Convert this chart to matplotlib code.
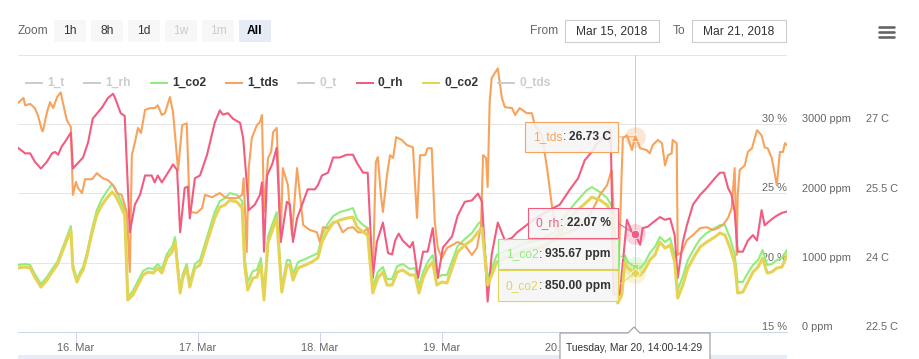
import matplotlib.pyplot as plt
from matplotlib.patches import Rectangle, Polygon, ConnectionPatch
from matplotlib.lines import Line2D
from matplotlib.transforms import Affine2D
from matplotlib.offsetbox import TextArea, HPacker, AnnotationBbox

plt.rcParams['font.family'] = ['Liberation Sans', 'DejaVu Sans']

# hours since Mar 15 2018 00:00 (thinned)
rh0_t = [12.6, 14.0, 15.0, 15.9, 17.1, 18.3, 19.3, 19.9, 20.5, 21.2,
         21.8, 23.0, 23.4, 24.4, 25.4, 26.4, 27.3, 29.1, 30.3, 31.3,
         31.7, 32.8, 33.6, 34.6, 35.6, 36.6, 37.6, 38.9, 39.5, 40.1,
         40.9, 42.1, 43.1, 43.9, 44.5, 45.4, 46.0, 46.4, 47.4, 48.4,
         49.8, 51.3, 52.3, 52.9, 53.9, 54.9, 56.3, 56.9, 57.6, 58.0,
         59.2, 60.2, 60.6, 61.0, 61.6, 62.6, 63.5, 64.3, 65.5, 66.1,
         66.7, 67.5, 68.7, 69.6, 71.0, 71.6, 72.4, 73.6, 74.6, 75.9,
         77.3, 78.5, 79.3, 80.5, 81.4, 82.4, 83.2, 84.4, 85.4, 86.2,
         86.8, 87.5, 88.3, 89.7, 90.3, 91.3, 92.3, 93.2, 94.2, 95.2,
         96.2, 98.0, 99.1, 100.5, 101.9, 103.1, 103.9, 105.0, 105.8, 107.0,
         108.4, 109.8, 110.8, 111.9, 113.3, 115.3, 117.2, 119.2, 121.2, 122.8,
         124.1, 125.5, 126.5, 128.1, 129.2, 129.8, 131.0, 132.4, 133.4, 134.0,
         135.0, 135.5, 136.5, 137.5, 138.9, 139.9, 140.9, 141.8, 142.4, 143.4,
         144.2, 145.4, 146.8, 148.1, 149.7, 150.7, 151.5, 152.3, 153.0, 153.6,
         154.2, 155.2, 156.2, 157.2, 158.0, 158.9, 159.5, 160.1, 161.1, 161.9,
         162.9, 163.9]
rh0_v = [28.3, 27.9, 27.9, 27.3, 26.8, 27.3, 27.9, 28.0, 27.8, 28.4,
         28.7, 29.4, 26.8, 27.2, 27.6, 28.7, 30.4, 31.2, 31.9, 32.2,
         31.9, 30.8, 30.6, 22.2, 24.2, 24.9, 26.3, 26.3, 25.8, 26.3,
         25.8, 26.5, 27.1, 26.7, 22.2, 25.4, 25.5, 23.2, 26.1, 26.3,
         27.8, 30.1, 31.0, 30.7, 30.8, 30.4, 30.1, 29.0, 25.8, 23.8,
         24.2, 24.9, 25.8, 20.8, 26.3, 27.1, 28.3, 21.5, 24.4, 24.2,
         21.5, 23.2, 24.4, 25.3, 25.3, 25.6, 26.3, 26.5, 27.6, 27.6,
         27.8, 27.8, 27.2, 26.5, 26.5, 18.9, 21.5, 22.9, 20.7, 20.6,
         21.6, 22.1, 21.6, 21.1, 21.5, 18.9, 20.8, 20.8, 22.5, 18.9,
         21.1, 21.9, 23.4, 24.4, 24.5, 25.0, 24.4, 17.2, 20.6, 22.9,
         21.6, 21.8, 22.2, 22.5, 22.9, 23.4, 23.8, 24.2, 25.3, 26.1,
         27.4, 28.0, 28.6, 29.2, 29.6, 17.7, 17.7, 23.1, 22.2, 22.07,
         21.3, 22.5, 22.6, 22.9, 23.3, 23.1, 23.2, 22.0, 18.9, 21.5,
         22.7, 24.2, 24.9, 25.4, 26.1, 26.5, 26.5, 25.4, 24.9, 23.7,
         20.8, 20.8, 21.6, 22.0, 21.6, 23.8, 22.7, 22.9, 23.2, 23.4,
         23.6, 23.7]

tds1_t = [12.6, 13.7, 14.0, 15.0, 15.9, 16.5, 17.3, 17.5, 18.3, 18.9,
          19.5, 20.3, 21.0, 21.4, 22.2, 23.0, 23.4, 24.0, 24.4, 25.2,
          25.8, 27.2, 28.1, 29.3, 30.3, 31.3, 32.1, 33.0, 34.0, 34.6,
          35.0, 35.6, 36.2, 36.8, 37.6, 38.6, 39.5, 40.1, 40.9, 41.5,
          42.5, 43.1, 43.9, 44.1, 44.9, 45.8, 46.4, 47.8, 48.8, 49.4,
          50.8, 52.3, 53.3, 54.3, 55.7, 56.7, 57.0, 57.6, 58.0, 58.6,
          59.6, 60.2, 60.6, 61.0, 61.8, 62.4, 62.8, 63.5, 64.3, 64.7,
          65.7, 66.5, 67.5, 68.3, 68.7, 70.0, 71.4, 72.0, 72.6, 73.6,
          74.6, 75.5, 76.5, 77.5, 78.5, 79.5, 80.5, 81.4, 82.4, 83.0,
          83.4, 84.0, 84.4, 85.2, 85.8, 86.4, 87.0, 88.1, 89.1, 90.3,
          91.1, 91.7, 92.7, 93.2, 94.0, 94.6, 95.2, 96.0, 97.0, 98.0,
          99.1, 100.5, 101.9, 102.9, 103.7, 104.1, 104.7, 105.0, 105.4, 105.8,
          107.0, 107.8, 108.4, 109.8, 110.4, 111.3, 112.7, 113.7, 114.3, 115.7,
          116.8, 117.8, 119.2, 122.2, 125.1, 127.1, 128.5, 129.4, 130.6, 131.6,
          132.4, 133.4, 134.0, 134.4, 135.0, 136.3, 136.9, 137.5, 138.5, 139.3,
          139.9, 140.5, 141.2, 141.4, 142.2, 142.4, 143.2, 144.2, 145.4, 146.8,
          148.1, 149.3, 150.3, 151.3, 152.3, 153.0, 153.6, 154.0, 154.2, 154.6,
          155.6, 156.2, 157.0, 158.0, 158.9, 159.5, 160.1, 160.9, 161.9, 162.5,
          163.1, 163.5, 163.9]
tds1_v = [27.46, 27.57, 27.41, 27.44, 27.35, 27.20, 26.87, 26.85, 27.26, 27.48,
          27.35, 27.59, 27.69, 27.48, 27.09, 26.94, 25.47, 25.75, 25.62, 25.51,
          25.81, 25.81, 25.94, 25.83, 25.79, 25.68, 25.51, 25.47, 25.10, 23.80,
          26.33, 26.61, 26.92, 26.81, 27.31, 27.35, 27.35, 27.41, 27.20, 27.24,
          27.59, 27.26, 26.27, 26.01, 26.98, 27.02, 25.10, 25.08, 25.18, 25.47,
          25.42, 25.51, 25.42, 25.40, 25.40, 25.47, 25.83, 24.23, 26.05, 26.70,
          26.98, 27.05, 27.20, 25.10, 26.27, 26.40, 26.83, 26.92, 24.60, 26.05,
          25.68, 24.60, 26.05, 25.25, 24.82, 24.71, 24.66, 24.45, 24.77, 24.75,
          24.88, 24.88, 24.66, 24.75, 24.77, 24.66, 24.66, 24.75, 23.67, 26.18,
          26.29, 25.47, 25.10, 25.90, 26.33, 26.27, 26.72, 26.66, 26.55, 26.50,
          24.97, 26.33, 26.33, 26.48, 26.48, 24.88, 24.32, 24.10, 24.32, 24.38,
          24.45, 24.38, 24.17, 24.32, 24.82, 26.33, 26.27, 25.64, 27.48, 28.00,
          28.21, 27.57, 27.37, 27.35, 27.20, 27.35, 27.24, 27.24, 26.98, 26.76,
          25.96, 25.10, 24.60, 24.71, 25.03, 25.47, 25.68, 26.01, 23.30, 26.70,
          26.76, 26.44, 26.73, 26.66, 26.48, 26.44, 26.37, 26.55, 26.66, 26.59,
          26.11, 26.33, 26.37, 26.66, 26.59, 24.17, 24.23, 24.49, 24.60, 24.75,
          24.77, 24.71, 24.75, 24.82, 24.97, 25.18, 26.05, 24.17, 25.47, 26.01,
          26.11, 26.40, 26.48, 26.87, 26.76, 26.50, 26.48, 26.27, 25.68, 26.40,
          26.40, 26.59, 26.55]

co2_t = [12.6, 14.0, 15.0, 15.9, 17.1, 18.3, 19.3, 20.3, 21.2, 22.2,
         23.0, 23.4, 24.2, 24.8, 25.4, 26.2, 27.2, 28.1, 29.1, 30.1,
         31.1, 31.7, 32.7, 33.6, 34.2, 35.2, 36.2, 37.2, 38.2, 39.2,
         40.1, 40.9, 41.9, 42.9, 43.5, 44.5, 45.0, 45.8, 46.4, 47.4,
         48.4, 49.8, 51.3, 52.3, 53.3, 54.3, 55.7, 56.7, 57.2, 57.8,
         58.8, 59.6, 60.4, 61.0, 61.8, 62.8, 63.5, 64.5, 65.5, 66.1,
         66.7, 67.7, 69.1, 70.4, 71.6, 72.4, 73.4, 74.6, 75.9, 77.3,
         78.5, 79.3, 80.5, 81.4, 82.4, 83.4, 84.4, 85.2, 86.2, 87.2,
         88.3, 89.7, 90.7, 91.5, 92.3, 93.2, 94.2, 95.0, 96.0, 97.0,
         98.0, 99.1, 100.5, 101.9, 103.1, 103.9, 105.0, 105.8, 106.8, 108.4,
         110.4, 112.3, 115.3, 118.2, 120.2, 122.2, 123.1, 124.5, 125.5, 127.1,
         128.5, 129.6, 130.6, 131.4, 132.0, 132.6, 134.0, 135.0, 135.9, 136.9,
         137.9, 138.9, 139.9, 140.9, 141.8, 142.4, 143.4, 144.4, 145.8, 146.8,
         148.1, 149.7, 150.7, 151.7, 152.7, 153.6, 154.2, 155.2, 156.2, 157.2,
         158.2, 159.1, 160.0, 160.9, 161.9, 162.9, 163.9]
co2_1 = [967, 981, 967, 837, 693, 794, 909, 1010, 1183, 1371,
         1530, 967, 765, 866, 938, 1154, 1501, 1760, 1919, 2035,
         2136, 2078, 1919, 1760, 505, 592, 736, 880, 924, 909,
         981, 909, 1126, 1227, 1371, 620, 837, 981, 707, 981,
         1039, 1371, 1732, 1890, 1934, 2006, 1977, 1890, 1068, 722,
         880, 895, 1068, 519, 1385, 1587, 1732, 649, 1039, 1039,
         837, 1010, 1053, 1097, 1140, 1385, 1544, 1674, 1732, 1760,
         1789, 1631, 1544, 1501, 649, 866, 938, 765, 765, 952,
         981, 909, 924, 664, 866, 1010, 1111, 779, 823, 823,
         1025, 1241, 1342, 1429, 1558, 1616, 779, 924, 1111, 1169,
         1212, 1284, 1328, 1443, 1674, 1861, 1934, 2049, 2092, 2020,
         1934, 1789, 534, 635, 1111, 1010, 935.67, 924, 996, 1140,
         1227, 1371, 1299, 1356, 1111, 606, 808, 1039, 1227, 1342,
         1429, 1501, 1544, 1544, 1356, 1126, 722, 722, 851, 967,
         1039, 1183, 967, 981, 1039, 1068, 1183]
co2_0 = [924, 938, 924, 794, 649, 750, 866, 967, 1140, 1328,
         1472, 924, 722, 823, 895, 1111, 1443, 1688, 1833, 1934,
         2020, 1977, 1833, 1688, 462, 534, 678, 823, 866, 851,
         924, 851, 1068, 1154, 1299, 563, 779, 924, 649, 924,
         967, 1299, 1645, 1804, 1833, 1905, 1876, 1789, 967, 606,
         779, 794, 967, 462, 1299, 1501, 1645, 577, 967, 967,
         750, 924, 967, 1010, 1068, 1299, 1443, 1573, 1616, 1645,
         1659, 1515, 1443, 1400, 563, 779, 866, 678, 678, 866,
         895, 823, 823, 563, 779, 924, 1010, 678, 722, 707,
         924, 1154, 1255, 1328, 1443, 1501, 678, 823, 1010, 1068,
         1111, 1183, 1212, 1328, 1544, 1732, 1789, 1876, 1948, 1905,
         1833, 1688, 418, 534, 1010, 924, 850, 823, 895, 1039,
         1111, 1299, 1212, 1255, 1010, 491, 678, 924, 1111, 1227,
         1299, 1371, 1429, 1400, 1212, 996, 563, 577, 722, 866,
         938, 1068, 851, 866, 924, 938, 1111]

legend_names = ['1_t', '1_rh', '1_co2', '1_tds', '0_t', '0_rh', '0_co2', '0_tds']
legend_shown = [False, False, True, True, False, True, True, False]
colors = {'1_co2': '#90ed7d', '1_tds': '#f7a35c', '0_rh': '#f15c80', '0_co2': '#e4d354'}

day_ticks = [24, 48, 72, 96, 120]
day_labels = ['16. Mar', '17. Mar', '18. Mar', '19. Mar', '20. Mar']
rh_ticks = [15, 20, 25, 30]
ppm_ticks = [0, 1000, 2000, 3000]
c_ticks = [22.5, 24, 25.5, 27]

hover_t = 134.0
hover_label = 'Tuesday, Mar 20, 14:00-14:29'
hover_vals = {'1_tds': 26.73, '0_rh': 22.07, '1_co2': 935.67, '0_co2': 850.00}
units = {'1_tds': 'C', '0_rh': '%', '1_co2': 'ppm', '0_co2': 'ppm'}

zoom_buttons = ['1h', '8h', '1d', '1w', '1m', 'All']
date_from = 'Mar 15, 2018'
date_to = 'Mar 21, 2018'

f11 = 7.92   # 11px
f12 = 8.64   # 12px
grey = '#666666'
dark = '#333333'

W, H = 919, 359
fig = plt.figure(figsize=(W / 100, H / 100), dpi=100)
fig.patch.set_facecolor('white')
# pixel coords, origin top-left
px = Affine2D().scale(1 / W, -1 / H).translate(0, 1) + fig.transFigure

L, R, T, B = 18, 787, 55, 332
ax = fig.add_axes([L / W, 1 - B / H, (R - L) / W, (B - T) / H])
ax.set_facecolor('none')
ax.set_xlim(min(co2_t), max(co2_t))
ax.set_ylim(15, 35)
ax.set_yticks(rh_ticks + [35])
ax.yaxis.grid(True, color='#e6e6e6', lw=0.72)
ax.set_axisbelow(True)
ax.tick_params(axis='y', length=0, labelleft=False)
for s in ['top', 'left', 'right']:
    ax.spines[s].set_visible(False)
ax.spines['bottom'].set_color('#ccd6eb')
ax.spines['bottom'].set_linewidth(0.72)
ax.set_xticks(day_ticks)
ax.set_xticklabels(day_labels)
ax.tick_params(axis='x', length=7.2, width=0.72, color='#ccd6eb',
               labelsize=f11, labelcolor=grey, pad=0.5)


def twin(lo, hi):
    a = ax.twinx()
    a.set_ylim(lo, hi)
    a.set_axis_off()
    return a


ax_g = twin(0, 4000)
ax_o = twin(22.5, 28.5)
ax_p = twin(15, 35)
ax_y = twin(0, 4000)

ax_g.plot(co2_t, co2_1, color=colors['1_co2'], lw=1.5, solid_joinstyle='round')
ax_o.plot(tds1_t, tds1_v, color=colors['1_tds'], lw=1.5, solid_joinstyle='round')
ax_p.plot(rh0_t, rh0_v, color=colors['0_rh'], lw=1.5, solid_joinstyle='round')
ax_y.plot(co2_t, co2_0, color=colors['0_co2'], lw=2.2, solid_joinstyle='round')

# axis labels, Highcharts style (inside / right of plot, above grid lines)
for v in rh_ticks:
    ax.text(1, v, f'{v} %', transform=ax.get_yaxis_transform(), ha='right',
            va='bottom', fontsize=f11, color=grey)
xp = (802 - L) / (R - L)
for v in ppm_ticks:
    ax_g.text(xp, v, f'{v} ppm', transform=ax_g.get_yaxis_transform(),
              ha='left', va='bottom', fontsize=f11, color=grey)
xc = (866 - L) / (R - L)
for v in c_ticks:
    ax_o.text(xc, v, f'{v:g} C', transform=ax_o.get_yaxis_transform(),
              ha='left', va='bottom', fontsize=f11, color=grey)

# crosshair + hover markers
ax.axvline(hover_t, color='#cccccc', lw=0.72)
marker_axes = [(ax_o, '1_tds', '^', 6), (ax_p, '0_rh', 'o', 6),
               (ax_g, '1_co2', 's', 5), (ax_y, '0_co2', 'D', 5)]
for a, name, mk, ms in marker_axes:
    v = hover_vals[name]
    a.plot(hover_t, v, 'o', ms=15, color=colors[name], alpha=0.25, mew=0)
    a.plot(hover_t, v, mk, ms=ms, color=colors[name], mec='white', mew=0.5)

# split tooltips
tips = [('1_tds', 525, 122, 152), ('0_rh', 528, 208, 238),
        ('1_co2', 498, 239, 269), ('0_co2', 498, 270, 301)]
tip_axes = {name: a for a, name, _, _ in marker_axes}
for name, x0, y0, y1 in tips:
    x1 = 618
    mid = (y0 + y1) / 2
    fig.add_artist(ConnectionPatch((x1, mid), (hover_t, hover_vals[name]), coordsA=px,
                                   coordsB=tip_axes[name].transData,
                                   color=colors[name], lw=0.72, zorder=5))
    fig.add_artist(Rectangle((x0 + 1, y0 + 1), x1 - x0, y1 - y0, transform=px,
                             fc=(0, 0, 0, 0.06), ec='none', zorder=5))
    fig.add_artist(Rectangle((x0, y0), x1 - x0, y1 - y0, transform=px,
                             fc=(0.97, 0.97, 0.97, 0.88), ec=colors[name], lw=0.8, zorder=6))
    val = f'{hover_vals[name]:.2f} {units[name]}'
    head = HPacker(children=[TextArea(name, textprops=dict(color=colors[name], fontsize=f12)),
                             TextArea(':', textprops=dict(color=dark, fontsize=f12))],
                   sep=0, pad=0)
    pack = HPacker(children=[head, TextArea(val, textprops=dict(color=dark, fontsize=f12,
                                                                fontweight='bold'))],
                   sep=2.4, pad=0)
    fig.add_artist(AnnotationBbox(pack, (x0 + 8, mid + 0.5), xycoords=px, box_alignment=(0, 0.5),
                                  frameon=False, pad=0, zorder=7))

# x tooltip
fig.add_artist(Polygon([(560, 333), (628, 333), (634, 327), (640, 333), (710, 333),
                        (710, 365), (560, 365)], closed=True, transform=px,
                       fc='white', ec='#999999', lw=0.8, zorder=6))
fig.text(566, 348, hover_label, transform=px, fontsize=7.4, color=dark,
         va='center', ha='left', zorder=7)

# navigator strip
fig.add_artist(Rectangle((L, 355), R - L, 10, transform=px, fc='#e6ebf5', ec='none', zorder=1))

# legend
renderer = fig.canvas.get_renderer()
lx = 26
for name, shown in zip(legend_names, legend_shown):
    col = colors[name] if shown else '#cccccc'
    fig.add_artist(Line2D([lx, lx + 16], [83, 83], transform=px, color=col, lw=1.44, zorder=5))
    t = fig.text(lx + 21, 83, name, transform=px, fontsize=f12, fontweight='bold',
                 color=dark if shown else '#cccccc', va='center', zorder=5)
    lx += 16 + 5 + t.get_window_extent(renderer).width + 20

# range selector
fig.text(18, 31, 'Zoom', transform=px, fontsize=f12, color=grey, va='center')
for i, lab in enumerate(zoom_buttons):
    x0 = 54 + i * 37
    sel = lab == 'All'
    off = lab in ('1w', '1m')
    fig.add_artist(Rectangle((x0, 20), 32, 22, transform=px,
                             fc='#e6ebf5' if sel else '#f7f7f7', ec='none', zorder=2))
    fig.text(x0 + 16, 31, lab, transform=px, fontsize=f12, ha='center', va='center',
             color='#cccccc' if off else ('#000000' if sel else dark),
             fontweight='bold' if sel else 'normal', zorder=3)

fig.text(558, 31, 'From', transform=px, fontsize=f12, color=grey, ha='right', va='center')
fig.text(685, 31, 'To', transform=px, fontsize=f12, color=grey, ha='right', va='center')
for x0, lab in [(565, date_from), (692, date_to)]:
    fig.add_artist(Rectangle((x0, 20), 94, 22, transform=px, fc='white',
                             ec='#cccccc', lw=0.8, zorder=2))
    fig.text(x0 + 47, 31, lab, transform=px, fontsize=f12, color=dark,
             ha='center', va='center', zorder=3)

# export menu icon
for yy in (27, 32, 37):
    fig.add_artist(Line2D([879, 894], [yy, yy], transform=px, color=grey, lw=1.9,
                          solid_capstyle='round', zorder=3))

fig.savefig('out.png', dpi=100)
